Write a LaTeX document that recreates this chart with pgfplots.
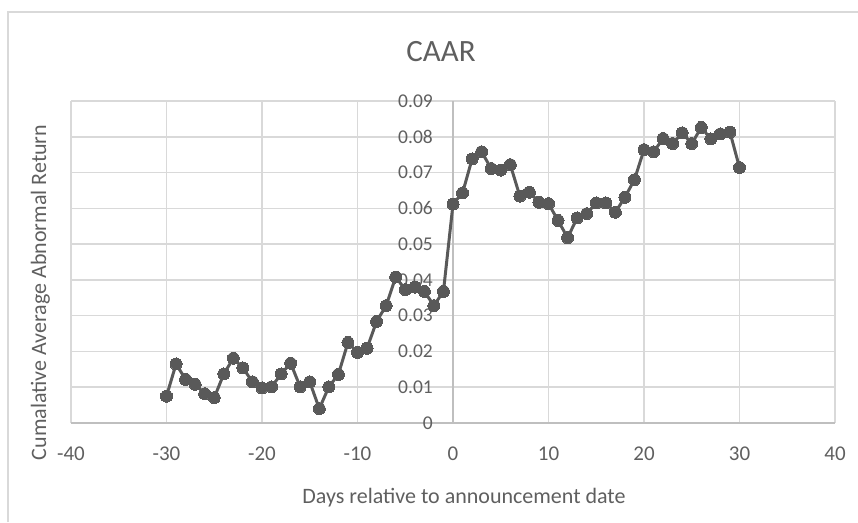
\documentclass[border=0pt]{standalone}
\usepackage{pgfplots}
\pgfplotsset{compat=1.18}
\usepackage{fontspec}
\setmainfont{Carlito}
\definecolor{txt}{HTML}{5F5F5F}
\definecolor{grd}{HTML}{D9D9D9}
\definecolor{axl}{HTML}{BFBFBF}
\definecolor{ser}{HTML}{595959}
\begin{document}
\begin{tikzpicture}[x=1pt,y=1pt]
\useasboundingbox (0,0) rectangle (858,522);
\draw[grd, line width=1.5pt] (8,0) -- (8,510) -- (858,510);
\begin{axis}[
  at={(71pt,99pt)}, anchor=south west, scale only axis,
  width=764pt, height=322pt,
  xmin=-40, xmax=40, ymin=0, ymax=0.09,
  axis x line=bottom, axis y line=center,
  hide obscured x ticks=false, hide obscured y ticks=false,
  scaled y ticks=false, scaled x ticks=false,
  axis line style={draw=axl, line width=1.5pt, -},
  every inner x axis line/.append style={-},
  every inner y axis line/.append style={-},
  every outer x axis line/.append style={-},
  every outer y axis line/.append style={-},
  major tick length=0pt,
  tick style={draw=none},
  grid=major, grid style={grd, line width=1.5pt},
  xtick={-40,-30,-20,-10,0,10,20,30,40},
  xticklabels={-40,-30,-20,-10,0,10,20,30,40},
  ytick={0,0.01,0.02,0.03,0.04,0.05,0.06,0.07,0.08,0.09},
  yticklabels={0,0.01,0.02,0.03,0.04,0.05,0.06,0.07,0.08,0.09},
  xticklabel style={anchor=base, yshift=-37pt, inner sep=0pt, font=\fontsize{21}{22}\selectfont, text=txt},
  yticklabel style={anchor=east, xshift=-20pt, inner sep=0pt, font=\fontsize{19.5}{20}\selectfont, text=txt},
]
\addplot[color=ser, line width=3pt, mark=*, mark size=6pt, mark options={fill=ser, draw=ser, line width=0pt}] coordinates {
(-30,0.0075) (-29,0.0165) (-28,0.0122) (-27,0.0108) (-26,0.0082) (-25,0.0071)
(-24,0.0137) (-23,0.0181) (-22,0.0154) (-21,0.0115) (-20,0.0098) (-19,0.0101)
(-18,0.0137) (-17,0.0167) (-16,0.0101) (-15,0.0115) (-14,0.0040) (-13,0.0101)
(-12,0.0136) (-11,0.0225) (-10,0.0197) (-9,0.0209) (-8,0.0284) (-7,0.0328)
(-6,0.0408) (-5,0.0373) (-4,0.0380) (-3,0.0368) (-2,0.0328) (-1,0.0368)
(0,0.0612) (1,0.0643) (2,0.0738) (3,0.0758) (4,0.0711) (5,0.0707)
(6,0.0722) (7,0.0634) (8,0.0645) (9,0.0617) (10,0.0613) (11,0.0566)
(12,0.0518) (13,0.0573) (14,0.0585) (15,0.0615) (16,0.0615) (17,0.0589)
(18,0.0631) (19,0.0680) (20,0.0764) (21,0.0758) (22,0.0795) (23,0.0781)
(24,0.0811) (25,0.0781) (26,0.0826) (27,0.0794) (28,0.0808) (29,0.0813)
(30,0.0714)
};
\end{axis}
\node[anchor=base, font=\fontsize{31}{34}\selectfont, text=txt] at (441,460.3) {CAAR};
\node[anchor=base, font=\fontsize{22}{24}\selectfont, text=txt] at (464,19) {Days relative to announcement date};
\node[rotate=90, anchor=base, font=\fontsize{22}{24}\selectfont, text=txt] at (46,229.5) {Cumalative Average Abnormal Return};
\end{tikzpicture}
\end{document}
